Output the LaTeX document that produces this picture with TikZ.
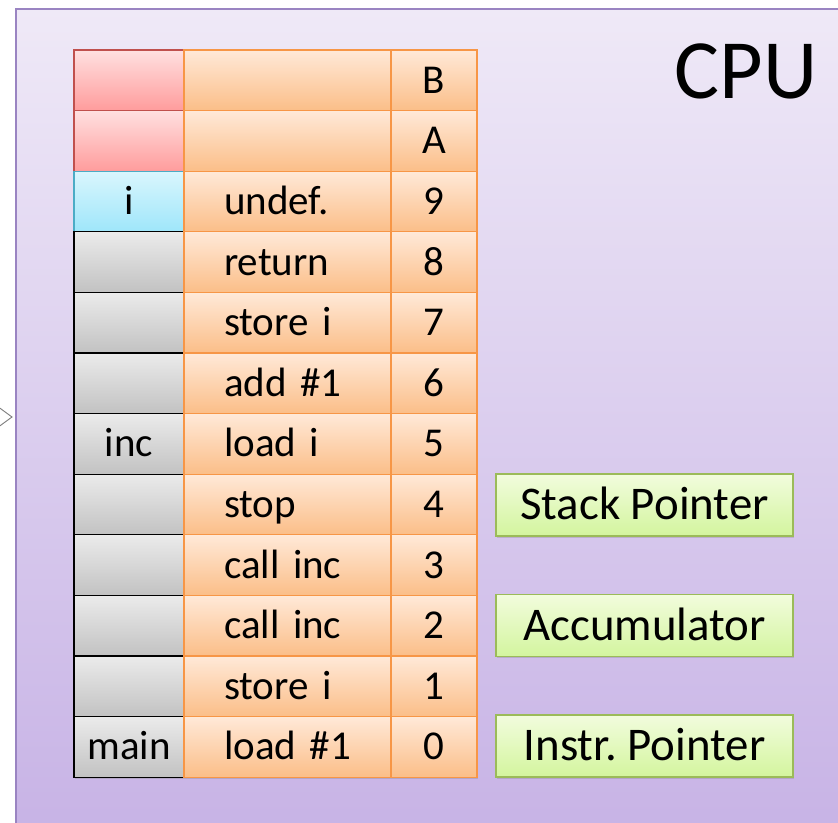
\documentclass[tikz,border=0pt]{standalone}
\usepackage{fontspec}
\setmainfont{Carlito}
\usetikzlibrary{positioning,shadows}
\definecolor{cpuLine}{HTML}{9A84C2}
\definecolor{cpuTop}{HTML}{EFE9F7}
\definecolor{cpuBottom}{HTML}{C6B1E5}
\definecolor{tagRed}{HTML}{C0504D}
\definecolor{tagRedTop}{HTML}{FFE0E0}
\definecolor{tagRedBot}{HTML}{FF9C9C}
\definecolor{tagCyan}{HTML}{4BACC6}
\definecolor{tagCyanTop}{HTML}{DAF6FD}
\definecolor{tagCyanBot}{HTML}{9EE6FA}
\definecolor{tagGrayTop}{HTML}{EBEBEB}
\definecolor{tagGrayBot}{HTML}{C2C2C2}
\definecolor{memLine}{HTML}{F79646}
\definecolor{memTop}{HTML}{FFE9D8}
\definecolor{memBot}{HTML}{FBBE88}
\definecolor{regLine}{HTML}{9BBB59}
\definecolor{regTop}{HTML}{F2FCDD}
\definecolor{regBot}{HTML}{D3F59E}
\frenchspacing
\tikzset{
  cellbase/.style={rectangle,line width=1pt,inner sep=0pt,outer sep=0pt,
    minimum height=1.818cm,text height=22.1pt,text depth=0pt,
    font=\fontsize{35}{35}\selectfont,
    drop shadow={shadow xshift=0.6pt,shadow yshift=-1.6pt,opacity=0.3}},
  tagcell/.style={cellbase,minimum width=3.3cm,align=center},
  redtag/.style={tagcell,draw=tagRed,top color=tagRedTop,bottom color=tagRedBot},
  cyantag/.style={tagcell,draw=tagCyan,top color=tagCyanTop,bottom color=tagCyanBot},
  graytag/.style={tagcell,draw=black,top color=tagGrayTop,bottom color=tagGrayBot},
  memcell/.style={cellbase,draw=memLine,top color=memTop,bottom color=memBot,
    inner xsep=1.2cm,text width=3.81cm,align=left},
  addrcell/.style={cellbase,draw=memLine,top color=memTop,bottom color=memBot,
    minimum width=2.58cm,align=center},
  regbox/.style={rectangle,line width=1pt,draw=regLine,top color=regTop,bottom color=regBot,
    minimum width=8.91cm,minimum height=1.86cm,inner sep=0pt,
    text height=25.3pt,text depth=0pt,font=\fontsize{40}{40}\selectfont,
    drop shadow={shadow xshift=0.6pt,shadow yshift=-1.6pt,opacity=0.3}},
  chevron/.style={draw=gray,line width=0.8pt,fill=white}
}
\begin{document}
\begin{tikzpicture}[x=0.03cm,y=-0.03cm]
  \useasboundingbox (0,0) rectangle (838,823);
  \clip (0,0) rectangle (838,823);
  % cpu panel
  \draw[cpuLine,line width=1.2pt,top color=cpuTop,bottom color=cpuBottom] (16,9) rectangle (870,860);
  \draw[chevron] (-14,398) -- (12,417) -- (-14,436);
  \node[font=\fontsize{72}{72}\selectfont,text height=45.5pt,text depth=0pt] (cpu) at (746,72) {CPU};
  % memory rows
  \foreach \addr/\instr/\tag/\kind [count=\r from 0] in
    {B/{}/{}/redtag, A/{}/{}/redtag, 9/undef./i/cyantag, 8/return/{}/graytag,
     7/store i/{}/graytag, 6/add \#1/{}/graytag, 5/load i/inc/graytag,
     4/stop/{}/graytag, 3/call inc/{}/graytag, 2/call inc/{}/graytag,
     1/store i/{}/graytag, 0/load \#1/main/graytag}
  {
    \node[\kind] (tag\r) at (129,{50+60.6*(\r+0.5)}) {\tag};
    \node[memcell,right=0pt of tag\r] (instr\r) {\mbox{\instr}};
    \node[addrcell,right=0pt of instr\r] (addr\r) {\addr};
  }
  % registers
  \node[regbox] (sp) at (644.5,505) {Stack Pointer};
  \node[regbox] (acc) at (644.5,625.5) {Accumulator};
  \node[regbox] (ip) at (644.5,746) {Instr. Pointer};
\end{tikzpicture}
\end{document}
